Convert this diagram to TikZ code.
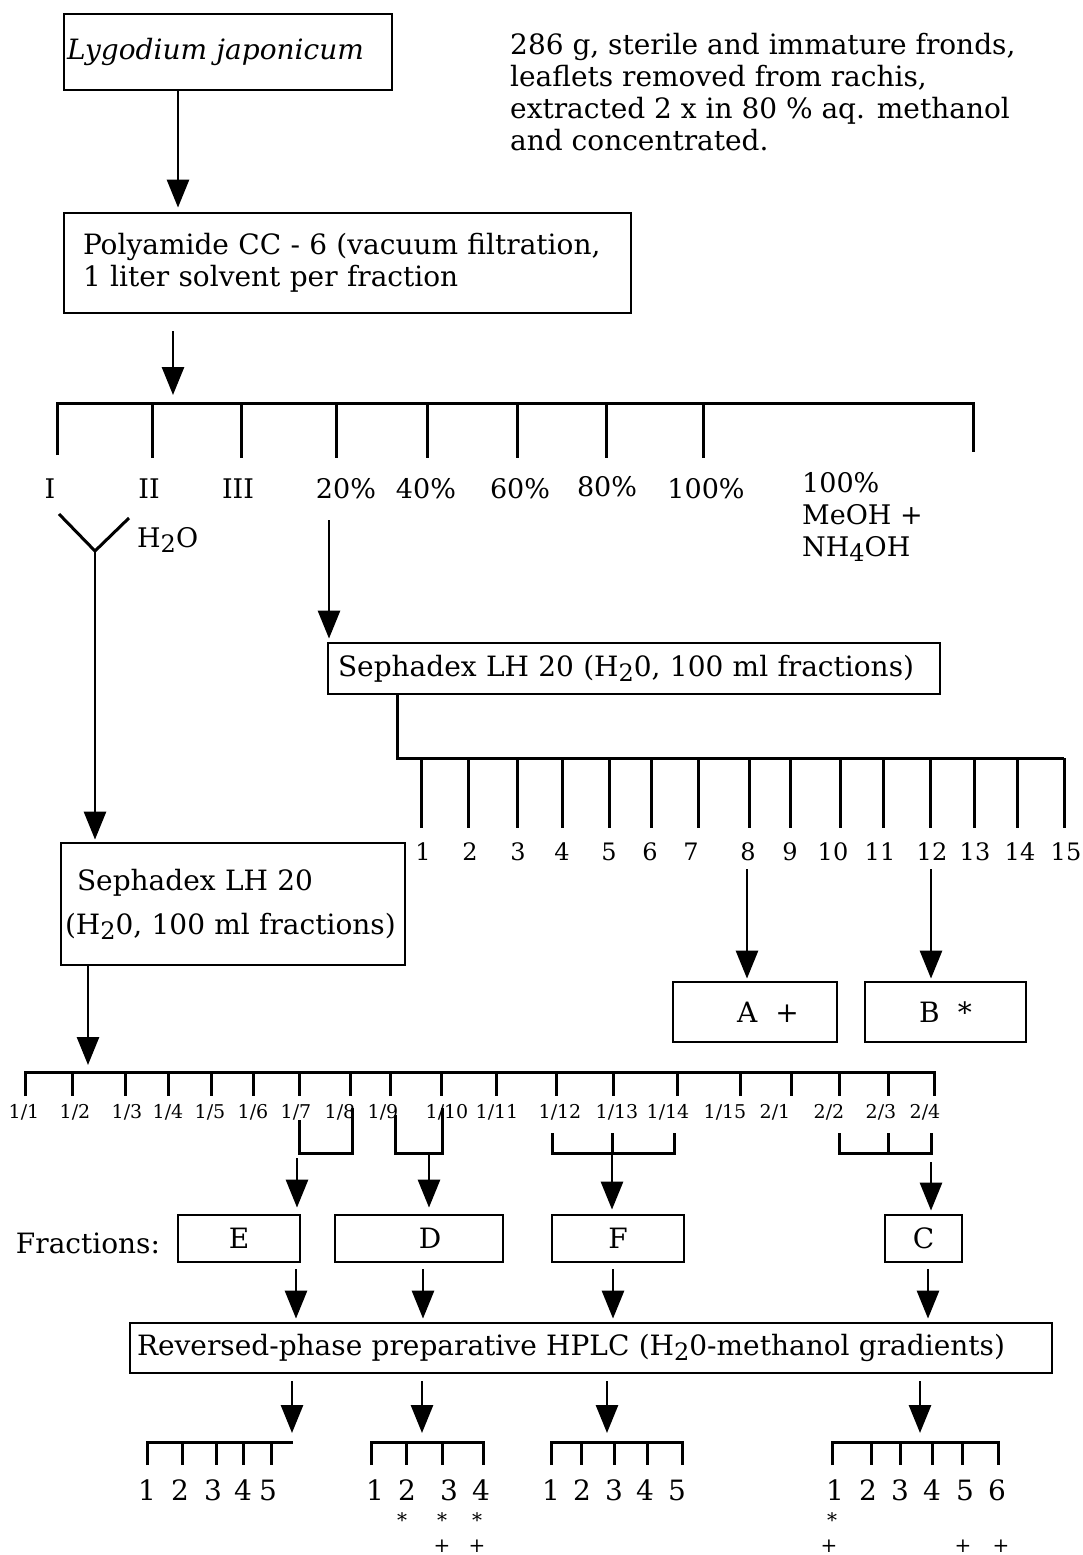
\documentclass[tikz,border=0pt]{standalone}
\usepackage{fontspec}
\setmainfont{DejaVu Serif}
\usetikzlibrary{arrows.meta}
\newcommand{\dn}[1]{\raisebox{-0.35ex}{\fontsize{24}{24}\selectfont #1}}
\begin{document}
\begin{tikzpicture}[x=1pt, y=-1pt,
  box/.style={draw, line width=2.8pt, inner ysep=0pt, align=left, font=\fontsize{28}{32}\selectfont},
  fbox/.style={draw, line width=2.8pt, inner sep=0pt, minimum height=47pt, font=\fontsize{28}{32}\selectfont},
  txt/.style={inner sep=0pt, font=\fontsize{28}{32}\selectfont},
  lbl/.style={inner sep=0pt, font=\fontsize{27}{32}\selectfont},
  num/.style={inner sep=0pt, font=\fontsize{24}{32}\selectfont},
  small/.style={inner sep=0pt, font=\fontsize{19}{20}\selectfont},
  big/.style={inner sep=0pt, font=\fontsize{28}{32}\selectfont},
  sym/.style={inner sep=0pt, anchor=base, text depth=0pt, font=\fontsize{20}{20}\selectfont},
  arr/.style={line width=2.8pt, -{Triangle[width=22pt,length=28pt]}},
  bar/.style={line width=3pt}
]
\useasboundingbox (0,0) rectangle (1082,1555);

\node[box, text width=322pt, inner xsep=3pt, minimum height=76pt, font=\itshape\fontsize{28}{32}\selectfont] (lygo) at (228,52) {Lygodium japonicum};
\node[txt, align=left, anchor=west] (note) at (510,92) {286 g, sterile and immature fronds,\\leaflets removed from rachis,\\extracted 2 x in 80 \% aq. methanol\\and concentrated.};
\node[box, text width=529pt, inner xsep=19pt, minimum height=100pt] (poly) at (347.5,263) {Polyamide CC - 6 (vacuum filtration,\\1 liter solvent per fraction};

\coordinate (a1) at (178,0);
\coordinate (a2) at (173,403);
\draw[arr, shorten >=4pt] (lygo.south -| a1) -- (poly.north -| a1);
\draw[arr, shorten <=17pt, shorten >=8pt] (poly.south -| a2) -- (a2);

\draw[bar] (57,455) -- (57,403) -- (973,403) -- (973,452);
\foreach \x in {152,241,336,427,517,606,703}
  \draw[bar] (\x,403) -- (\x,458);
\node[lbl] (pI) at (50,489) {I};
\node[lbl] (pII) at (149,489) {II};
\node[lbl] (pIII) at (238,489) {III};
\node[lbl] (p20) at (346,489) {20\%};
\node[lbl] (p40) at (426,489) {40\%};
\node[lbl] (p60) at (520,489) {60\%};
\node[lbl] (p80) at (607,487) {80\%};
\node[lbl] (p100) at (706,489) {100\%};
\node[lbl, align=left, anchor=north west] (pam) at (802,472) {100\%\\MeOH +\\NH\dn{4}OH};

\coordinate (fork) at (95,551);
\draw[bar] (59,514) -- (fork) -- (129,518);
\node[lbl, anchor=west] (water) at (137,540) {H\dn{2}O};
\node[box, text width=336pt, inner xsep=4pt, minimum height=122pt, font=\fontsize{28}{44}\selectfont] (sephL) at (233,904) {\hspace{12pt}Sephadex LH 20\\(H\dn{2}0, 100 ml fractions)};
\draw[arr, shorten >=2pt] (fork) -- (sephL.north -| fork);

\coordinate (c20) at (329,520);
\node[box, text width=592pt, inner xsep=10pt, minimum height=51pt] (sephR) at (634,668.5) {Sephadex LH 20 (H\dn{2}0, 100 ml fractions)};
\draw[arr, shorten >=3pt] (c20) -- (sephR.north -| c20);

\coordinate (b2) at (397,758);
\draw[bar] (sephR.south -| b2) -- (b2) -- (1064,758);
\foreach \x in {421,468,517,562,609,651,698,749,790,840,883,930,974,1017,1064}
  \draw[bar] (\x,758) -- (\x,828);
\foreach \x [count=\i] in {423,470,518,562,609,650,691,748,790,833,880,932,975,1020,1066}
  \node[num] (n\i) at (\x,852) {\i};

\node[box, align=center, minimum width=164pt, minimum height=60pt, inner xsep=0pt] (fa) at (755,1012) {\hspace{26pt}A\hspace{18pt}+};
\node[box, align=center, minimum width=161pt, minimum height=60pt, inner xsep=0pt] (fb) at (945.5,1012) {B\hspace{18pt}*};
\coordinate (ca) at (747,0);
\coordinate (cb) at (931,0);
\draw[arr, shorten <=8pt, shorten >=2pt] (n8.south -| ca) -- (fa.north -| ca);
\draw[arr, shorten <=8pt, shorten >=2pt] (n12.south -| cb) -- (fb.north -| cb);

\coordinate (b3) at (88,1072);
\draw[arr, shorten >=7pt] (sephL.south -| b3) -- (b3);
\draw[bar] (25,1096) -- (25,1072) -- (934,1072) -- (934,1096);
\foreach \x in {72,125,168,211,253,299,350,390,441,496,556,613,677,740,791,839,888}
  \draw[bar] (\x,1072) -- (\x,1096);
\foreach \x/\a/\b [count=\i] in {24/1/1,75/1/2,127/1/3,168/1/4,210/1/5,253/1/6,296/1/7,340/1/8,383/1/9,447/1/10,497/1/11,560/1/12,617/1/13,668/1/14,725/1/15,775/2/1,829/2/2,881/2/3,925/2/4}
  \node[small] (f\i) at (\x,1112) {\a/\b};

\draw[bar] (299,1120) -- (299,1153) -- (352,1153) -- (352,1108);
\draw[bar] (395,1115) -- (395,1153) -- (442,1153) -- (442,1108);
\draw[bar] (552,1133) -- (552,1153) -- (674,1153) -- (674,1133);
\draw[bar] (612,1133) -- (612,1153);
\draw[bar] (839,1133) -- (839,1153) -- (931,1153) -- (931,1133);
\draw[bar] (888,1133) -- (888,1153);
\coordinate (jE) at (297,1158);
\coordinate (jD) at (429,1153);
\coordinate (jF) at (612,1153);
\coordinate (jC) at (931,1162);

\node[txt] (frac) at (88,1243) {Fractions:};
\node[fbox, minimum width=122pt] (fe) at (239,1238.5) {E};
\node[fbox, minimum width=168pt] (fd) at (419,1238.5) {\hspace{22pt}D};
\node[fbox, minimum width=132pt] (ff) at (618,1238.5) {F};
\node[fbox, minimum width=77pt] (fc) at (923.5,1238.5) {C};
\draw[arr, shorten >=6pt] (jE) -- (fe.north -| jE);
\draw[arr, shorten >=6pt] (jD) -- (fd.north -| jD);
\draw[arr, shorten >=4pt] (jF) -- (ff.north -| jF);
\draw[arr, shorten >=3pt] (jC) -- (fc.north -| jC);

\node[box, text width=908pt, inner xsep=7pt, minimum height=50pt] (hplc) at (591,1348) {Reversed-phase preparative HPLC (H\dn{2}0-methanol gradients)};
\coordinate (h1) at (296,0);
\coordinate (h2) at (423,0);
\coordinate (h3) at (613,0);
\coordinate (h4) at (928,0);
\draw[arr, shorten <=6pt, shorten >=3pt] (fe.south -| h1) -- (hplc.north -| h1);
\draw[arr, shorten <=6pt, shorten >=3pt] (fd.south -| h2) -- (hplc.north -| h2);
\draw[arr, shorten <=6pt, shorten >=3pt] (ff.south -| h3) -- (hplc.north -| h3);
\draw[arr, shorten <=6pt, shorten >=3pt] (fc.south -| h4) -- (hplc.north -| h4);

\coordinate (g1) at (292,1442);
\coordinate (g2) at (422,1442);
\coordinate (g3) at (607,1442);
\coordinate (g4) at (920,1442);
\draw[arr, shorten <=7pt, shorten >=9pt] (hplc.south -| g1) -- (g1);
\draw[arr, shorten <=7pt, shorten >=9pt] (hplc.south -| g2) -- (g2);
\draw[arr, shorten <=7pt, shorten >=9pt] (hplc.south -| g3) -- (g3);
\draw[arr, shorten <=7pt, shorten >=9pt] (hplc.south -| g4) -- (g4);

\draw[bar] (147,1465) -- (147,1442) -- (293,1442);
\foreach \x in {182,216,243,271} \draw[bar] (\x,1442) -- (\x,1465);
\draw[bar] (371,1465) -- (371,1442) -- (483,1442) -- (483,1465);
\foreach \x in {406,442} \draw[bar] (\x,1442) -- (\x,1465);
\draw[bar] (551,1465) -- (551,1442) -- (682,1442) -- (682,1465);
\foreach \x in {581,614,647} \draw[bar] (\x,1442) -- (\x,1465);
\draw[bar] (832,1465) -- (832,1442) -- (998,1442) -- (998,1465);
\foreach \x in {871,900,932,962} \draw[bar] (\x,1442) -- (\x,1465);

\foreach \x [count=\i] in {147,180,213,243,268} \node[big] (ra\i) at (\x,1490) {\i};
\foreach \x [count=\i] in {375,407,449,481} \node[big] (rb\i) at (\x,1490) {\i};
\foreach \x [count=\i] in {551,582,614,645,677} \node[big] (rc\i) at (\x,1490) {\i};
\foreach \x [count=\i] in {835,868,900,932,965,997} \node[big] (rd\i) at (\x,1490) {\i};

\foreach \x [count=\i] in {402,442,477,832} \node[sym, text height=15pt] (st\i) at (\x,1527) {*};
\foreach \x [count=\i] in {442,477,829,963,1001} \node[sym, text height=13pt] (pl\i) at (\x,1552) {+};
\end{tikzpicture}
\end{document}
